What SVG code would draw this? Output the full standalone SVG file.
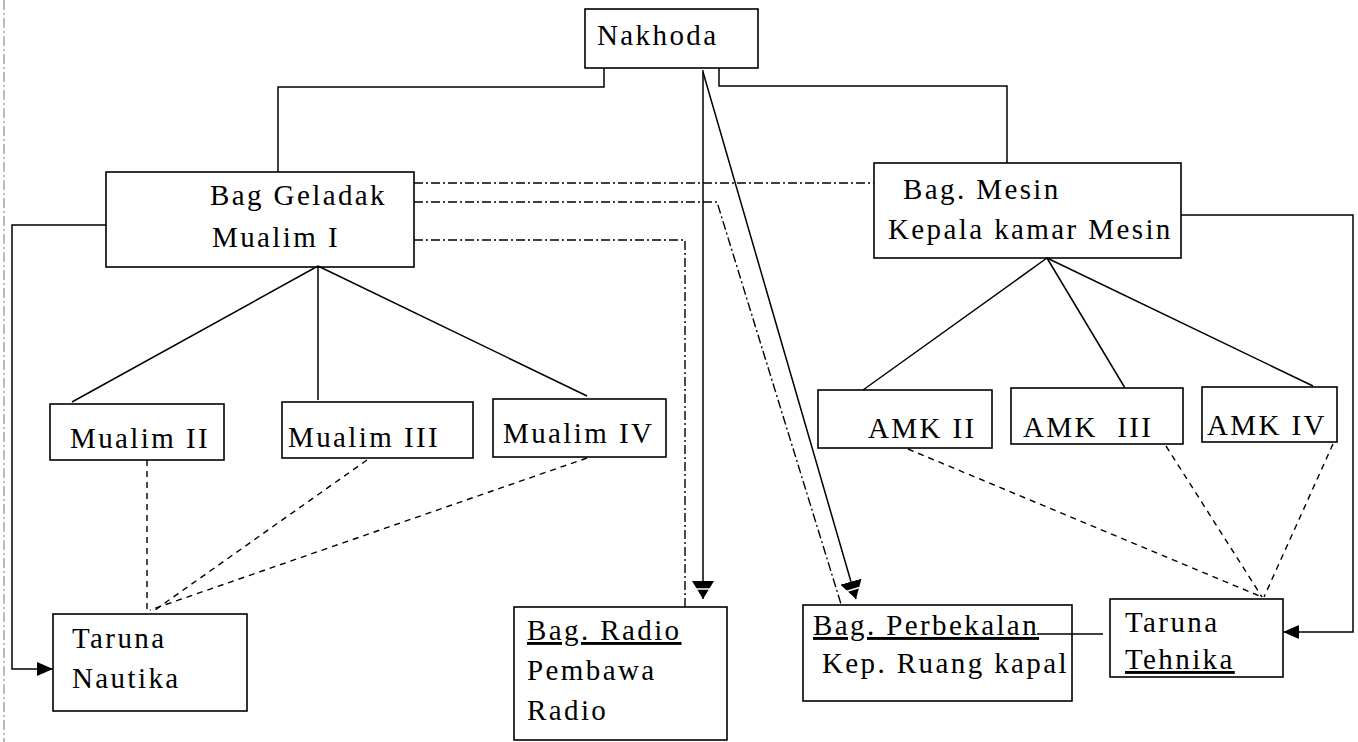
<svg xmlns="http://www.w3.org/2000/svg" width="1358" height="742" viewBox="0 0 1358 742">
<style>
  .box { fill: none; stroke: #000; stroke-width: 1.6; }
  .t { font-family: "Liberation Serif", "Times New Roman", serif; font-size: 29px; letter-spacing: 2.4px; fill: #000; }
  .u { text-decoration: underline; }
  .solid { fill: none; stroke: #000; stroke-width: 1.5; }
  .dash { fill: none; stroke: #000; stroke-width: 1.4; stroke-dasharray: 6 5; }
  .dashdot { fill: none; stroke: #000; stroke-width: 1.4; stroke-dasharray: 9 3 2 3; }
  .border { fill: none; stroke: #777; stroke-width: 1; stroke-dasharray: 10 3 2 3; }
</style>
<defs>
  <marker id="big" markerUnits="userSpaceOnUse" viewBox="0 0 18 22" refX="18" refY="11" markerWidth="18" markerHeight="22" orient="auto">
    <path d="M0,0 L18,11 L0,22 Z" fill="#000"/>
    <line x1="8" y1="0" x2="8" y2="22" stroke="#fff" stroke-width="1.5"/>
  </marker>
  <marker id="sm" markerUnits="userSpaceOnUse" viewBox="0 0 16 14" refX="16" refY="7" markerWidth="16" markerHeight="14" orient="auto">
    <path d="M0,0 L16,7 L0,14 Z" fill="#000"/>
  </marker>
</defs>
<rect width="1358" height="742" fill="#fff"/>
<line class="border" x1="4" y1="0" x2="4" y2="742"/>

<g id="connectors">
  <path class="solid" d="M604,68 V87 H278 V172"/>
  <path class="solid" d="M719,68 V86 H1007 V163"/>
  <path class="solid" d="M703,70 V599" marker-end="url(#big)"/>
  <path class="solid" d="M703,72 L856,599" marker-end="url(#big)"/>
  <path class="dashdot" d="M414,183 H874"/>
  <path class="dashdot" d="M414,202 H717 L841,604"/>
  <path class="dashdot" d="M414,240 H685 V607"/>
  <path class="solid" d="M106,225 H12 V669 H53" marker-end="url(#sm)"/>
  <path class="solid" d="M318,266 L72,402"/>
  <path class="solid" d="M318,266 V400"/>
  <path class="solid" d="M318,266 L587,396"/>
  <path class="solid" d="M1047,258 L863,390"/>
  <path class="solid" d="M1047,258 L1125,388"/>
  <path class="solid" d="M1047,258 L1313,386"/>
  <path class="solid" d="M1181,215 H1353 V632 H1283" marker-end="url(#sm)"/>
  <path class="dash" d="M147,460 V610"/>
  <path class="dash" d="M367,460 L155,610"/>
  <path class="dash" d="M587,458 L150,610"/>
  <path class="dash" d="M908,449 L1262,597"/>
  <path class="dash" d="M1166,446 L1262,597"/>
  <path class="dash" d="M1333,444 L1264,597"/>
  <path class="solid" d="M1037,634 H1103"/>
</g>

<g id="nakhoda">
  <rect class="box" x="585" y="9" width="173" height="59"/>
  <text class="t" x="597" y="45">Nakhoda</text>
</g>

<g id="bag-geladak">
  <rect class="box" x="106" y="172" width="308" height="95"/>
  <text class="t" x="210" y="205">Bag Geladak</text>
  <text class="t" x="212" y="247">Mualim I</text>
</g>

<g id="bag-mesin">
  <rect class="box" x="874" y="163" width="307" height="95"/>
  <text class="t" x="903" y="199">Bag. Mesin</text>
  <text class="t" x="888" y="239">Kepala kamar Mesin</text>
</g>

<g id="mualim-2">
  <rect class="box" x="50" y="404" width="174" height="56"/>
  <text class="t" x="70" y="448">Mualim II</text>
</g>
<g id="mualim-3">
  <rect class="box" x="282" y="402" width="191" height="56"/>
  <text class="t" x="288" y="447">Mualim III</text>
</g>
<g id="mualim-4">
  <rect class="box" x="493" y="399" width="173" height="58"/>
  <text class="t" x="503" y="443">Mualim IV</text>
</g>

<g id="amk-2">
  <rect class="box" x="818" y="390" width="174" height="58"/>
  <text class="t" x="868" y="438">AMK II</text>
</g>
<g id="amk-3">
  <rect class="box" x="1011" y="388" width="172" height="56"/>
  <text class="t" x="1023" y="437" xml:space="preserve">AMK  III</text>
</g>
<g id="amk-4">
  <rect class="box" x="1202" y="387" width="135" height="55"/>
  <text class="t" x="1207" y="435">AMK IV</text>
</g>

<g id="taruna-nautika">
  <rect class="box" x="53" y="614" width="194" height="97"/>
  <text class="t" x="72" y="648">Taruna</text>
  <text class="t" x="72" y="688">Nautika</text>
</g>

<g id="bag-radio">
  <rect class="box" x="514" y="607" width="213" height="133"/>
  <text class="t u" x="527" y="640">Bag. Radio</text>
  <text class="t" x="527" y="680">Pembawa</text>
  <text class="t" x="527" y="720">Radio</text>
</g>

<g id="bag-perbekalan">
  <rect class="box" x="803" y="605" width="269" height="96"/>
  <text class="t u" x="813" y="635">Bag. Perbekalan</text>
  <text class="t" x="822" y="673">Kep. Ruang kapal</text>
</g>

<g id="taruna-tehnika">
  <rect class="box" x="1110" y="599" width="173" height="78"/>
  <text class="t" x="1125" y="632">Taruna</text>
  <text class="t u" x="1125" y="669">Tehnika</text>
</g>
</svg>
